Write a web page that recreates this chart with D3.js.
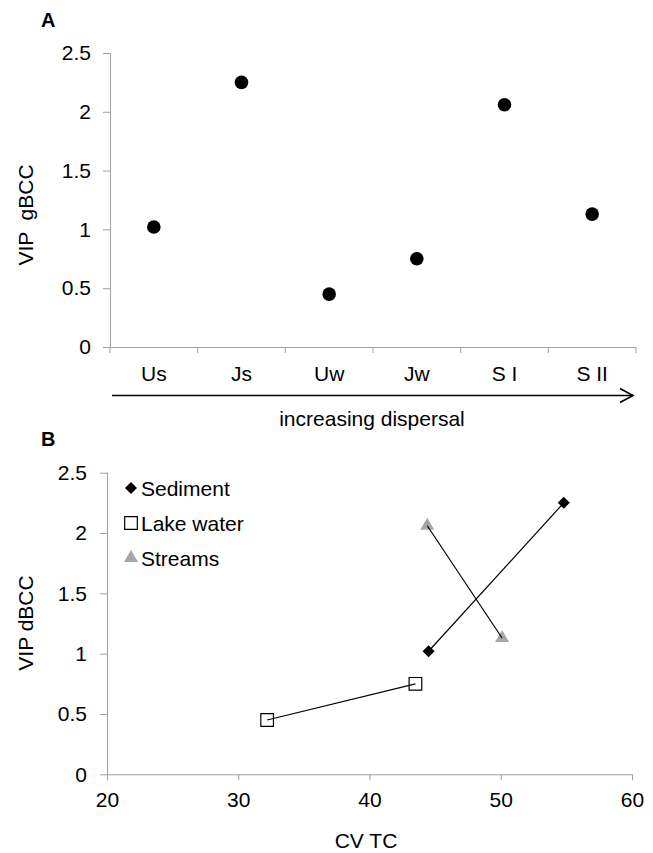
<!DOCTYPE html>
<html><head><meta charset="utf-8">
<script src="https://cdn.jsdelivr.net/npm/d3@7"></script>
<style>body{margin:0;background:#fff}svg{display:block}text{font-family:"Liberation Sans",Arial,sans-serif;fill:#000}</style>
</head><body>
<script>
// Panel A data
const categoriesA = ["Us","Js","Uw","Jw","S I","S II"];
const valuesA = [1.02, 2.25, 0.45, 0.75, 2.06, 1.13];
const yTicksA = [0, 0.5, 1, 1.5, 2, 2.5];
// Panel B data
const seriesNames = ["Sediment","Lake water","Streams"];
const sedimentX = [44.5, 54.8];
const sedimentY = [1.02, 2.25];
const lakeX = [32.2, 43.5];
const lakeY = [0.45, 0.75];
const streamsX = [44.4, 50.1];
const streamsY = [2.06, 1.13];
const xTicksB = [20, 30, 40, 50, 60];
const yTicksB = [0, 0.5, 1, 1.5, 2, 2.5];

const W = 653, H = 853, FS = 21, AX = "#a0a0a0";
const svg = d3.select("body").append("svg").attr("width", W).attr("height", H);

// ---------- Panel A ----------
const xA = d3.scaleBand().domain(categoriesA).range([110, 636]);
const yA = d3.scaleLinear().domain([0, 2.5]).range([347, 53]);
const gA = svg.append("g");
gA.append("text").text("A").attr("x", 41).attr("y", 27).attr("font-weight", "bold").attr("font-size", 20);

const yAxisA = gA.append("g").attr("transform", "translate(110,0)")
  .call(d3.axisLeft(yA).tickValues(yTicksA).tickSize(7).tickPadding(12).tickFormat(d3.format("")));
const xAxisA = gA.append("g").attr("transform", "translate(0,347)")
  .call(d3.axisBottom(xA).tickSize(0).tickPadding(19));
// boundary ticks for band axis
gA.append("g").selectAll("line").data(d3.range(categoriesA.length + 1)).join("line")
  .attr("x1", i => 110 + i * xA.step()).attr("x2", i => 110 + i * xA.step())
  .attr("y1", 347).attr("y2", 353).attr("stroke", AX);
[yAxisA, xAxisA].forEach(a => {
  a.selectAll("path,line").attr("stroke", AX);
  a.selectAll("text").attr("font-size", FS).attr("font-family", '"Liberation Sans",Arial,sans-serif').attr("fill", "#000");
});
yAxisA.select(".domain").attr("d", "M0.5,53V347.5");
xAxisA.select(".domain").attr("d", "M110,0.5H636.5");

gA.selectAll("circle.pt").data(categoriesA).join("circle").attr("class", "pt")
  .attr("cx", d => xA(d) + xA.bandwidth() / 2)
  .attr("cy", (d, i) => yA(valuesA[i])).attr("r", 6.8).attr("fill", "#000");

gA.append("text").text("VIP  gBCC").attr("font-size", FS).attr("text-anchor", "middle")
  .attr("transform", "translate(33,215) rotate(-90)").style("white-space", "pre");

// arrow
gA.append("path").attr("d", "M112,395.5H633").attr("stroke", "#000").attr("stroke-width", 1.6).attr("fill", "none");
gA.append("path").attr("d", "M620,388.5L633,395.5L620,402.5").attr("stroke", "#000").attr("stroke-width", 1.6).attr("fill", "none");
gA.append("text").text("increasing dispersal").attr("font-size", FS).attr("text-anchor", "middle")
  .attr("x", 372).attr("y", 426);

// ---------- Panel B ----------
const xB = d3.scaleLinear().domain([20, 60]).range([107, 632]);
const yB = d3.scaleLinear().domain([0, 2.5]).range([774.3, 472.7]);
const gB = svg.append("g");
gB.append("text").text("B").attr("x", 41).attr("y", 446).attr("font-weight", "bold").attr("font-size", 20);

const yAxisB = gB.append("g").attr("transform", "translate(107,0)")
  .call(d3.axisLeft(yB).tickValues(yTicksB).tickSize(7).tickPadding(13).tickFormat(d3.format("")));
const xAxisB = gB.append("g").attr("transform", "translate(0,774.3)")
  .call(d3.axisBottom(xB).tickValues(xTicksB).tickSize(6).tickPadding(12).tickFormat(d3.format("")));
[yAxisB, xAxisB].forEach(a => {
  a.selectAll("path,line").attr("stroke", AX);
  a.selectAll("text").attr("font-size", FS).attr("font-family", '"Liberation Sans",Arial,sans-serif').attr("fill", "#000");
});
yAxisB.select(".domain").attr("d", "M0.5,472.7V774.8");
xAxisB.select(".domain").attr("d", "M107,0.5H632.5");

const series = [
  {name: seriesNames[0], xs: sedimentX, ys: sedimentY, sym: d3.symbolSquare, size: 72, rot: 45, fill: "#000", stroke: "none"},
  {name: seriesNames[1], xs: lakeX, ys: lakeY, sym: d3.symbolSquare, size: 160, rot: 0, fill: "#fff", stroke: "#000"},
  {name: seriesNames[2], xs: streamsX, ys: streamsY, sym: d3.symbolTriangle, size: 85, rot: 0, fill: "#a6a6a6", stroke: "none"}
];
const line = d3.line();
series.forEach(s => {
  const pts = s.xs.map((x, i) => [xB(x), yB(s.ys[i])]);
  gB.selectAll(null).data(pts).join("path")
    .attr("d", d3.symbol().type(s.sym).size(s.size)())
    .attr("transform", p => `translate(${p[0]},${p[1]}) rotate(${s.rot})`)
    .attr("fill", s.fill).attr("stroke", s.stroke).attr("stroke-width", 1.2);
});
series.forEach(s => {
  const pts = s.xs.map((x, i) => [xB(x), yB(s.ys[i])]);
  gB.append("path").attr("d", line(pts)).attr("stroke", "#000").attr("stroke-width", 1.2).attr("fill", "none");
});

// legend
const legY = [488, 523, 558];
series.forEach((s, i) => {
  gB.append("path").attr("d", d3.symbol().type(s.sym).size(s.size)())
    .attr("transform", `translate(131,${legY[i]}) rotate(${s.rot})`)
    .attr("fill", s.fill).attr("stroke", s.stroke).attr("stroke-width", 1.2);
  gB.append("text").text(s.name).attr("x", 141).attr("y", legY[i] + 7.5).attr("font-size", FS);
});

gB.append("text").text("VIP dBCC").attr("font-size", FS).attr("text-anchor", "middle")
  .attr("transform", "translate(33,623) rotate(-90)");
gB.append("text").text("CV TC").attr("font-size", FS).attr("text-anchor", "middle")
  .attr("x", 366).attr("y", 848);
</script>
</body></html>
